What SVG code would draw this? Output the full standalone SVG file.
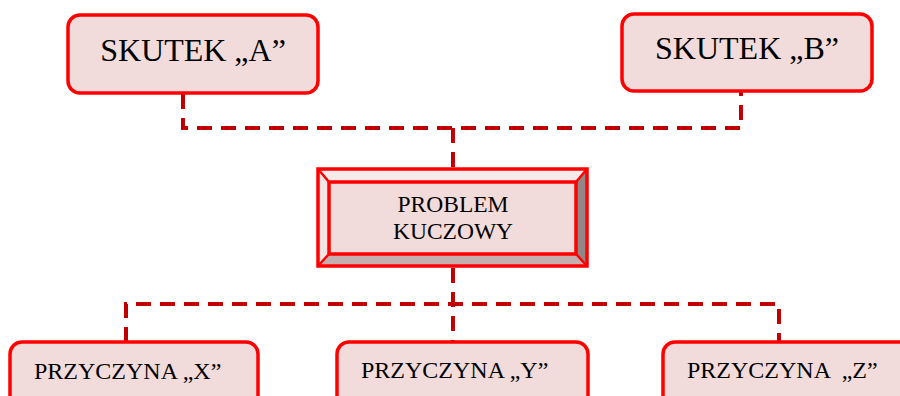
<svg xmlns="http://www.w3.org/2000/svg" width="900" height="396" viewBox="0 0 900 396">
<style>
.box{fill:#f2dcdb;stroke:#ff0000;stroke-width:3.5}
.conn{fill:none;stroke:#c00000;stroke-width:4;stroke-dasharray:15 9}
.big{font-family:"Liberation Serif","Times New Roman",serif;font-size:32px;fill:#000}
.mid{font-family:"Liberation Serif","Times New Roman",serif;font-size:23.5px;fill:#000}
.cause{font-family:"Liberation Serif","Times New Roman",serif;font-size:24px;fill:#000}
</style>
<rect width="900" height="396" fill="#ffffff"/>
<g id="connectors">
<path class="conn" d="M183 94 V128 H741 V92"/>
<path class="conn" d="M453 128 V168"/>
<path class="conn" d="M126 342 V304 H779 V342"/>
<path class="conn" d="M453 268 V342"/>
</g>
<g id="skutek-a">
<rect class="box" x="68" y="15" width="250" height="78" rx="12"/>
<text class="big" x="193" y="61" text-anchor="middle">SKUTEK „A”</text>
</g>
<g id="skutek-b">
<rect class="box" x="622" y="14" width="250" height="77" rx="12"/>
<text class="big" x="747" y="59" text-anchor="middle">SKUTEK „B”</text>
</g>
<g id="problem">
<polygon points="318,169 587,169 576,182 329,182" fill="#f7eaea"/>
<polygon points="318,169 329,182 329,254 318,266" fill="#f5e4e4"/>
<polygon points="587,169 587,266 576,254 576,182" fill="#918786"/>
<polygon points="318,266 587,266 576,254 329,254" fill="#c4aeae"/>
<rect x="329" y="182" width="247" height="72" fill="#f2dcdb"/>
<g fill="none" stroke="#ff0000" stroke-width="3.5">
<rect x="318" y="169" width="269" height="97"/>
<rect x="329" y="182" width="247" height="72"/>
<path d="M318 169 L329 182 M587 169 L576 182 M318 266 L329 254 M587 266 L576 254" stroke-width="2.5"/>
</g>
<text class="mid" x="453" y="212" text-anchor="middle">PROBLEM</text>
<text class="mid" x="453" y="239" text-anchor="middle">KUCZOWY</text>
</g>
<g id="przyczyna-x">
<rect class="box" x="10" y="342" width="248" height="70" rx="12"/>
<text class="cause" x="34" y="379">PRZYCZYNA „X”</text>
</g>
<g id="przyczyna-y">
<rect class="box" x="337" y="342" width="251" height="70" rx="12"/>
<text class="cause" x="361" y="378">PRZYCZYNA „Y”</text>
</g>
<g id="przyczyna-z">
<rect class="box" x="663" y="342" width="250" height="70" rx="12"/>
<text class="cause" x="687" y="378" xml:space="preserve">PRZYCZYNA  „Z”</text>
</g>
</svg>
